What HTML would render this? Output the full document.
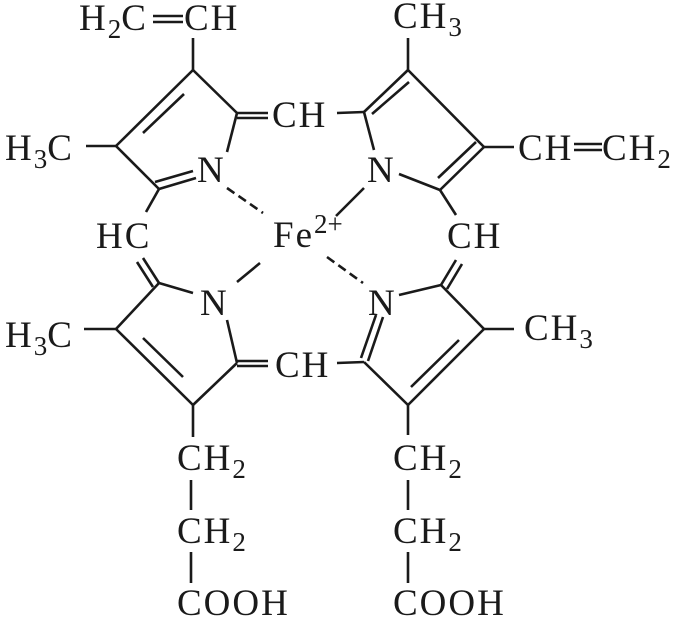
<!DOCTYPE html>
<html><head><meta charset="utf-8"><style>
html,body{margin:0;padding:0;background:#fff;}
svg{display:block;}
text{font-family:"Liberation Serif",serif;font-size:37px;fill:#1a1a1a;letter-spacing:2px;}
tspan.s{font-size:27px;letter-spacing:0;}
</style></head><body>
<svg width="683" height="621" viewBox="0 0 683 621" xmlns="http://www.w3.org/2000/svg">
<g stroke="#1a1a1a" stroke-width="2.6" fill="none" stroke-linecap="butt">
<line x1="193" y1="38" x2="193" y2="70"/>
<line x1="193" y1="70" x2="237" y2="113"/>
<line x1="193" y1="70" x2="116" y2="146"/>
<line x1="143" y1="133" x2="184" y2="94"/>
<line x1="116" y1="146" x2="159" y2="189"/>
<line x1="159" y1="189" x2="196" y2="178"/>
<line x1="155" y1="182" x2="193" y2="171"/>
<line x1="227" y1="152" x2="237" y2="113"/>
<line x1="86" y1="146" x2="116" y2="146"/>
<line x1="237" y1="113" x2="268" y2="113"/>
<line x1="237" y1="118" x2="268" y2="118"/>
<line x1="159" y1="189" x2="146" y2="212"/>
<line x1="337" y1="113" x2="364" y2="112"/>
<line x1="408" y1="38" x2="408" y2="70"/>
<line x1="364" y1="112" x2="408" y2="70"/>
<line x1="372" y1="114" x2="409" y2="82"/>
<line x1="408" y1="70" x2="484" y2="147"/>
<line x1="484" y1="147" x2="440" y2="190"/>
<line x1="438" y1="178" x2="476" y2="142"/>
<line x1="364" y1="112" x2="374" y2="150"/>
<line x1="399" y1="174" x2="440" y2="190"/>
<line x1="484" y1="147" x2="514" y2="147"/>
<line x1="440" y1="190" x2="456" y2="215"/>
<line x1="159" y1="283" x2="143" y2="258"/>
<line x1="153" y1="287" x2="137" y2="262"/>
<line x1="159" y1="283" x2="193" y2="293"/>
<line x1="159" y1="283" x2="116" y2="329"/>
<line x1="116" y1="329" x2="193" y2="405"/>
<line x1="143" y1="338" x2="183" y2="377"/>
<line x1="193" y1="405" x2="237" y2="363"/>
<line x1="227" y1="320" x2="237" y2="363"/>
<line x1="84" y1="329" x2="116" y2="329"/>
<line x1="237" y1="361" x2="268" y2="361"/>
<line x1="237" y1="366" x2="268" y2="366"/>
<line x1="337" y1="363" x2="364" y2="362"/>
<line x1="193" y1="405" x2="193" y2="437"/>
<line x1="191" y1="480" x2="191" y2="510"/>
<line x1="191" y1="552" x2="191" y2="583"/>
<line x1="441" y1="285" x2="456" y2="260"/>
<line x1="447" y1="289" x2="462" y2="264"/>
<line x1="399" y1="295" x2="441" y2="285"/>
<line x1="441" y1="285" x2="484" y2="329"/>
<line x1="484" y1="329" x2="408" y2="405"/>
<line x1="411" y1="387" x2="459" y2="340"/>
<line x1="408" y1="405" x2="364" y2="362"/>
<line x1="383" y1="317" x2="368" y2="361"/>
<line x1="376" y1="315" x2="361" y2="358"/>
<line x1="484" y1="329" x2="514" y2="329"/>
<line x1="408" y1="405" x2="408" y2="435"/>
<line x1="408" y1="480" x2="408" y2="510"/>
<line x1="408" y1="552" x2="408" y2="583"/>
<line x1="227" y1="188" x2="263" y2="213" stroke-dasharray="9,5"/>
<line x1="364" y1="188" x2="336" y2="216"/>
<line x1="237" y1="282" x2="260" y2="263"/>
<line x1="327" y1="257" x2="363" y2="283" stroke-dasharray="9,5"/>
<line x1="153" y1="16" x2="183" y2="16"/>
<line x1="153" y1="22" x2="183" y2="22"/>
<line x1="574" y1="144" x2="602" y2="144"/>
<line x1="574" y1="150" x2="602" y2="150"/>
</g>
<g>
<text x="79" y="30">H<tspan class="s" dy="8">2</tspan><tspan dy="-8">C</tspan></text>
<text x="184" y="30">CH</text>
<text x="393" y="28">CH<tspan class="s" dy="8">3</tspan></text>
<text x="5" y="160">H<tspan class="s" dy="8">3</tspan><tspan dy="-8">C</tspan></text>
<text x="272" y="127">CH</text>
<text x="197" y="182">N</text>
<text x="367" y="182">N</text>
<text x="518" y="160">CH</text>
<text x="602" y="160">CH<tspan class="s" dy="8">2</tspan></text>
<text x="96" y="248">HC</text>
<text x="273" y="247">Fe<tspan class="s" dy="-14">2+</tspan></text>
<text x="447" y="248">CH</text>
<text x="200" y="315">N</text>
<text x="368" y="315">N</text>
<text x="5" y="347">H<tspan class="s" dy="8">3</tspan><tspan dy="-8">C</tspan></text>
<text x="524" y="340">CH<tspan class="s" dy="8">3</tspan></text>
<text x="275" y="377">CH</text>
<text x="177" y="470">CH<tspan class="s" dy="8">2</tspan></text>
<text x="393" y="470">CH<tspan class="s" dy="8">2</tspan></text>
<text x="177" y="543">CH<tspan class="s" dy="8">2</tspan></text>
<text x="393" y="543">CH<tspan class="s" dy="8">2</tspan></text>
<text x="177" y="615">COOH</text>
<text x="393" y="615">COOH</text>
</g>
</svg>
</body></html>
